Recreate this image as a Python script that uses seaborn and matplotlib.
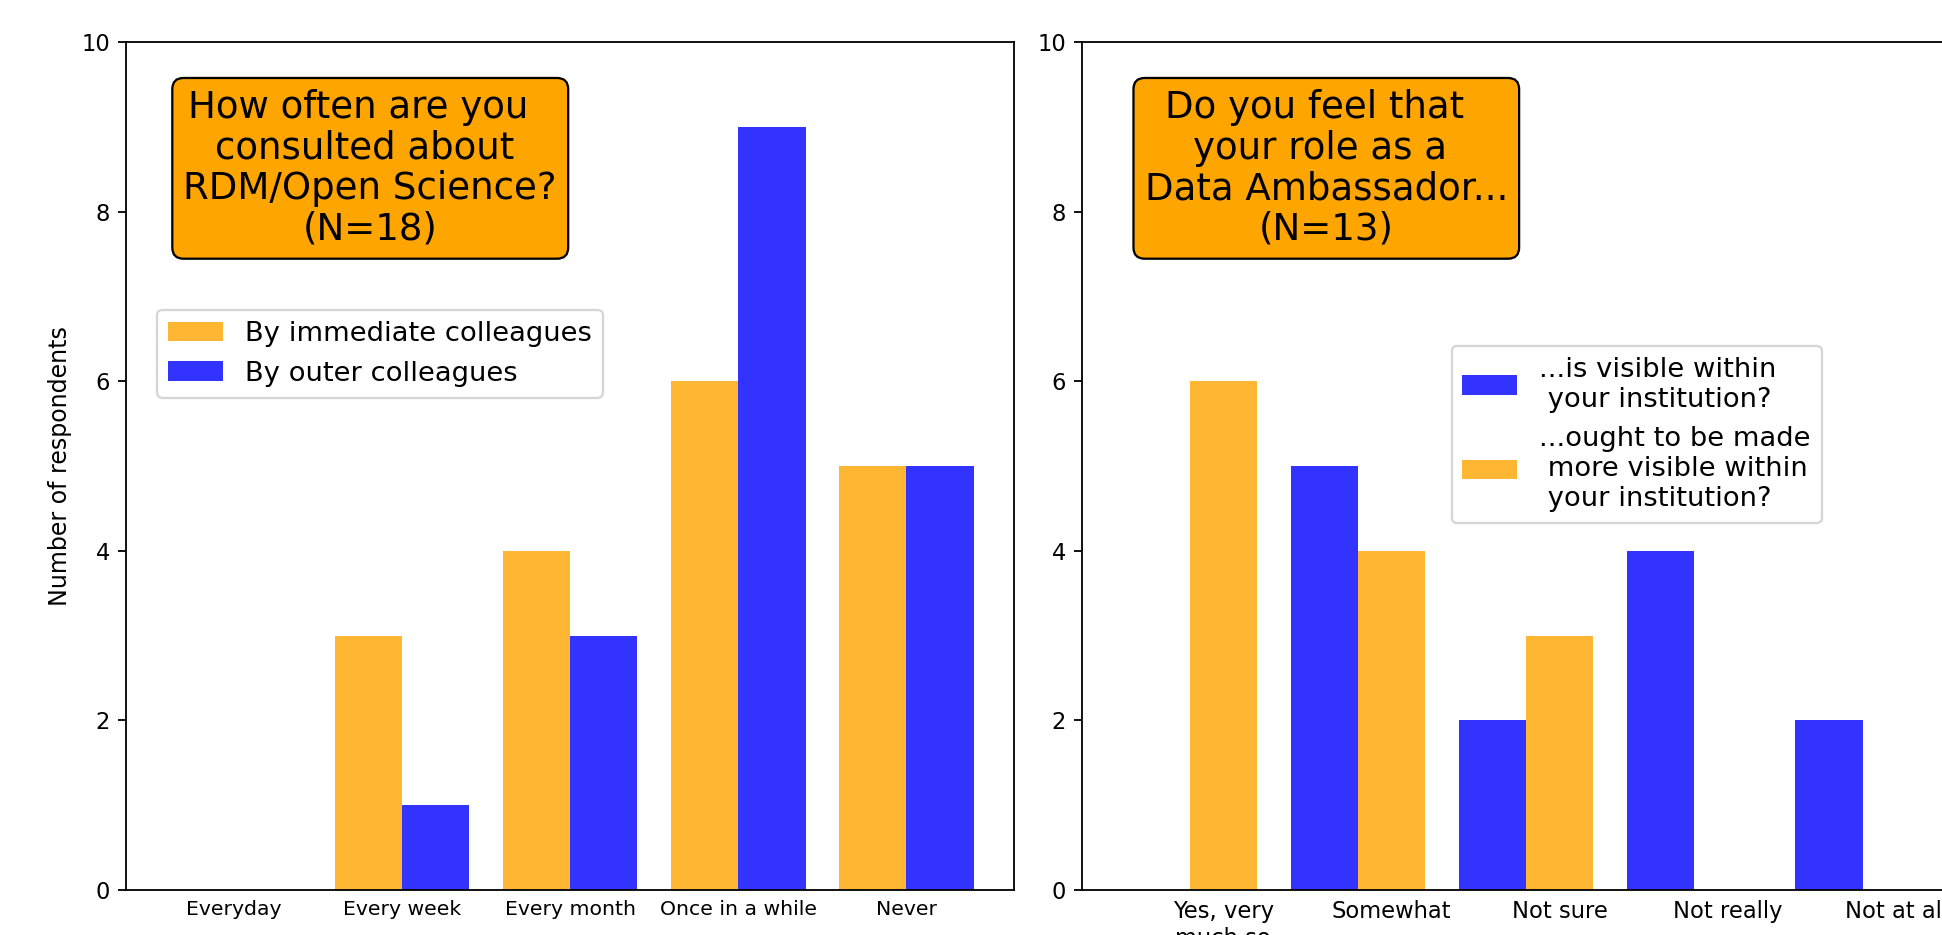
import numpy as np
import pandas as pd
import matplotlib
matplotlib.use("Agg")
import matplotlib.pyplot as plt
import seaborn as sns

# ---------------- data ----------------
freq_cats = ["Everyday", "Every week", "Every month", "Once in a while", "Never"]
immediate = [0, 3, 4, 6, 5]
outer = [0, 1, 3, 9, 5]
freq_series = ["By immediate colleagues", "By outer colleagues"]

vis_cats = ["Yes, very\nmuch so", "Somewhat", "Not sure", "Not really", "Not at all"]
is_visible = [0, 5, 2, 4, 2]
ought_visible = [6, 4, 3, 0, 0]
vis_series = ["...is visible within\n your institution?",
              "...ought to be made\n more visible within\n your institution?"]

title_left = "How often are you  \nconsulted about \nRDM/Open Science?\n(N=18)"
title_right = "Do you feel that  \nyour role as a \nData Ambassador...\n(N=13)"

ORANGE = (1.0, 0.647, 0.0, 0.8)
BLUE = (0.0, 0.0, 1.0, 0.8)

df_left = pd.DataFrame({
    "cat": freq_cats * 2,
    "count": immediate + outer,
    "who": [freq_series[0]] * 5 + [freq_series[1]] * 5,
})
df_right = pd.DataFrame({
    "cat": vis_cats * 2,
    "count": is_visible + ought_visible,
    "who": [vis_series[0]] * 5 + [vis_series[1]] * 5,
})

# ---------------- figure ----------------
DPI = 163
fig = plt.figure(figsize=(1942 / DPI, 935 / DPI), dpi=DPI)
ax1 = fig.add_axes([0.0649, 0.0481, 0.4573, 0.907])
ax2 = fig.add_axes([0.5572, 0.0481, 0.4573, 0.907])

sns.barplot(data=df_left, x="cat", y="count", hue="who", ax=ax1,
            palette={freq_series[0]: ORANGE, freq_series[1]: BLUE},
            saturation=1, linewidth=0, width=0.8)
sns.barplot(data=df_right, x="cat", y="count", hue="who", ax=ax2,
            palette={vis_series[0]: BLUE, vis_series[1]: ORANGE},
            saturation=1, linewidth=0, width=0.8)

for ax in (ax1, ax2):
    ax.set_xlim(-0.64, 4.64)
    ax.set_ylim(0, 10)
    ax.set_yticks([0, 2, 4, 6, 8, 10])
    ax.tick_params(axis="y", labelsize=10)
    ax.set_xlabel("")
    ax.set_ylabel("")

ax1.set_xticks(range(5), freq_cats)
ax1.tick_params(axis="x", labelsize=9, length=0, pad=4.5)
# right panel labels sit under the second bar of each group
ax2.set_xticks(np.arange(5) + 0.2, vis_cats)
ax2.tick_params(axis="x", labelsize=10, length=0, pad=4.5)

ax1.set_ylabel("Number of respondents", fontsize=10.5)

box = dict(boxstyle="round", facecolor="orange", edgecolor="black")
ax1.text(0.275, 0.851, title_left, transform=ax1.transAxes, ha="center",
         va="center", multialignment="center", fontsize=16.4,
         linespacing=1.12, bbox=box)
ax2.text(0.275, 0.851, title_right, transform=ax2.transAxes, ha="center",
         va="center", multialignment="center", fontsize=16.4,
         linespacing=1.12, bbox=box)

sns.move_legend(ax1, "upper left", bbox_to_anchor=(0.035, 0.684),
                borderaxespad=0, title=None, fontsize=12.1, frameon=True)
sns.move_legend(ax2, "upper left", bbox_to_anchor=(0.416, 0.642),
                borderaxespad=0, title=None, fontsize=12.1, frameon=True)

fig.savefig("out.png", dpi=DPI)
